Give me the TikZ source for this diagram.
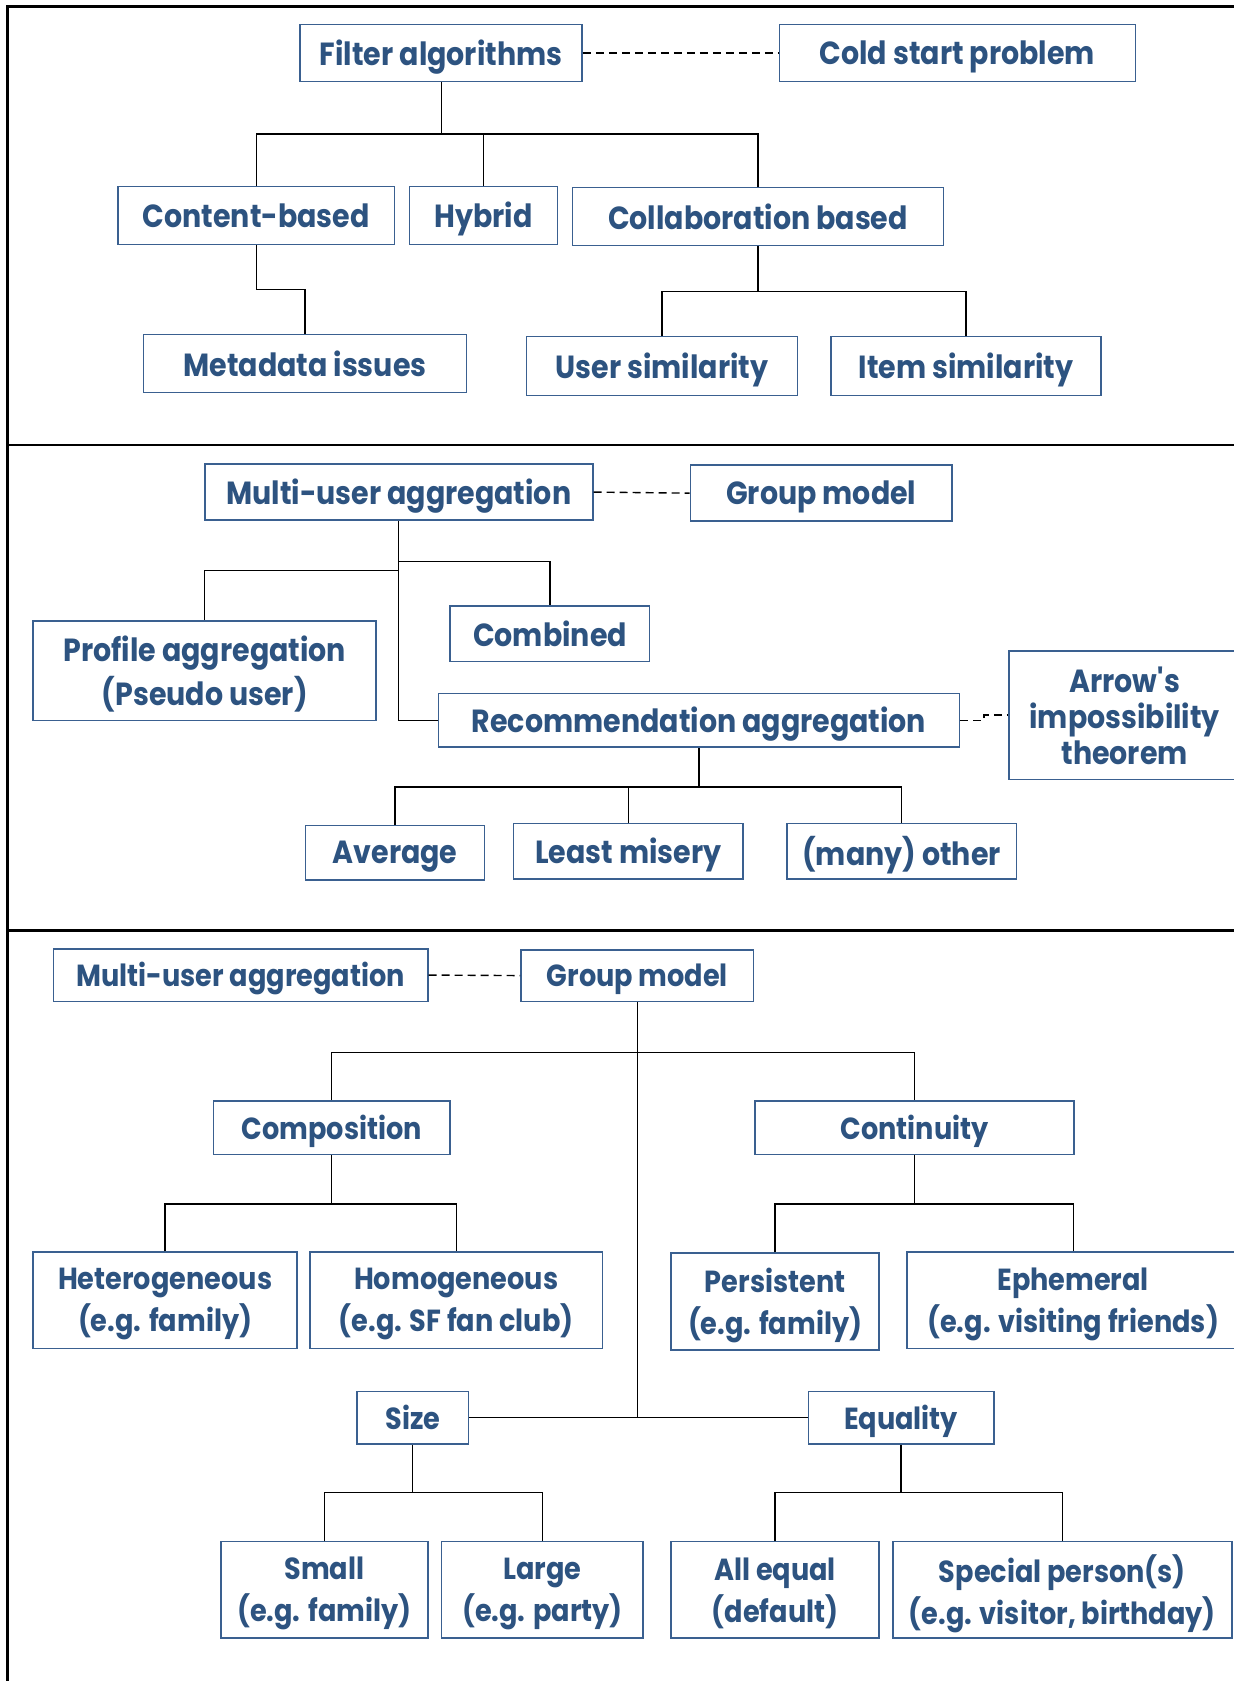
\documentclass[tikz,border=0pt]{standalone}
\usepackage{fontspec}
\setmainfont{Poppins}[FakeStretch=0.89]
\definecolor{txtblue}{RGB}{45,83,128}
\definecolor{boxblue}{RGB}{58,96,144}
\tikzset{
  box/.style={rectangle, draw=boxblue, line width=1.6pt, inner sep=0pt},
  txtbase/.style={text=txtblue, inner sep=0pt, align=center},
  tan/.style={txtbase, font=\bfseries\fontsize{32}{44}\selectfont},
  ta/.style={tan, yshift=-3.8pt},
  tbn/.style={txtbase, font=\bfseries\fontsize{30.5}{42}\selectfont},
  tb/.style={tbn, yshift=-3.8pt},
  conn/.style={draw=black, line width=1.3pt},
  dashconn/.style={draw=black, line width=1.4pt, dash pattern=on 8pt off 5pt},
  frame/.style={draw=black, line width=2.2pt}
}
\newcommand\mkbox[7][ta]{%
  \node[box, minimum width={(#5-#3)*1.0721pt}, minimum height={(#6-#4)*1.0721pt}] (#2) at ({(#3+#5)/2},{(#4+#6)/2}) {};%
  \node[#1] (#2-t) at (#2.center) {#7};}
\begin{document}
\begin{tikzpicture}[x=1.0721pt, y=-1.0721pt]
\useasboundingbox (0,0) rectangle (1151,1568);
% frame
\draw[frame] (1160,6) -- (7,6) -- (7,1575);
\draw[frame] (7,415) -- (1160,415);
\draw[frame] (7,868) -- (1160,868);
% ---------- panel 1
\mkbox{fa}{280}{23}{543}{76}{Filter algorithms}
\mkbox{cs}{727}{23}{1059}{76}{Cold start problem}
\mkbox[tan]{cb}{110}{174}{368}{228}{Content-based}
\mkbox{hy}{382}{174}{520}{228}{Hybrid}
\mkbox[tan]{cl}{534}{175}{880}{229}{Collaboration based}
\mkbox[tan]{md}{134}{312}{435}{366}{Metadata issues}
\mkbox{us}{491}{314}{744}{369}{User similarity}
\mkbox{is}{775}{314}{1027}{369}{Item similarity}
\draw[dashconn] (fa.east) -- (cs.west);
\draw[conn] (fa.south) -- (fa.south |- 0,125);
\draw[conn] (cb.north) -- (cb.north |- 0,125) -| (cl.north);
\draw[conn] (hy.north) -- (hy.north |- 0,125);
\draw[conn] (cb.south) -- (cb.south |- 0,270) -| (md.north);
\draw[conn] (cl.south) -- (cl.south |- 0,272);
\draw[conn] (us.north) -- (us.north |- 0,272) -| (is.north);
% ---------- panel 2
\mkbox{mu}{191}{433}{553}{485}{Multi-user aggregation}
\mkbox{gm}{644}{434}{888}{486}{Group model}
\mkbox{pa}{31}{579}{351}{672}{Profile aggregation\\(Pseudo user)}
\mkbox[tan]{co}{420}{565}{606}{617}{Combined}
\mkbox{ra}{409}{647}{895}{697}{Recommendation aggregation}
\mkbox[tan,font=\bfseries\fontsize{32}{36}\selectfont,yshift=-0.8pt]{ar}{941}{607}{1157}{727}{Arrow\textquotesingle s\\impossibility\\theorem}
\mkbox{av}{285}{770}{452}{821}{Average}
\mkbox{lm}{479}{768}{693}{820}{Least misery}
\mkbox{mo}{734}{768}{948}{820}{(many) other}
\draw[dashconn] (mu.east) -- (gm.west);
\draw[conn] (mu.south) |- (ra.west);
\draw[conn] (mu.south |- 0,532) -| (pa.north);
\draw[conn] (mu.south |- 0,524) -| (co.north);
\draw[dashconn] (ra.east) -- ++(22,0) |- (ar.west);
\draw[conn] (ra.south) -- (ra.south |- 0,734);
\draw[conn] (av.north) -- (av.north |- 0,734) -| (mo.north);
\draw[conn] (lm.north) -- (lm.north |- 0,734);
% ---------- panel 3
\mkbox[tb]{mu2}{50}{885}{399}{934}{Multi-user aggregation}
\mkbox[tb]{gm2}{486}{886}{703}{934}{Group model}
\mkbox[tb]{cp}{199}{1027}{420}{1077}{Composition}
\mkbox[tb]{cn}{704}{1027}{1002}{1077}{Continuity}
\mkbox[tb]{he}{31}{1168}{277}{1258}{Heterogeneous\\(e.g. family)}
\mkbox[tb]{ho}{289}{1168}{562}{1258}{Homogeneous\\(e.g. SF fan club)}
\mkbox[tb]{pe}{626}{1169}{820}{1259}{Persistent\\(e.g. family)}
\mkbox[tb]{ep}{846}{1168}{1156}{1258}{Ephemeral\\(e.g. visiting friends)}
\mkbox[tbn]{sz}{333}{1298}{437}{1347}{Size}
\mkbox[tb]{eq}{754}{1298}{927}{1347}{Equality}
\mkbox[tb]{sm}{206}{1438}{399}{1528}{Small\\(e.g. family)}
\mkbox[tb]{lg}{412}{1438}{600}{1528}{Large\\(e.g. party)}
\mkbox[tb]{ae}{626}{1438}{820}{1528}{All equal\\(default)}
\mkbox[tb]{sp}{833}{1438}{1149}{1528}{Special person(s)\\(e.g. visitor, birthday)}
\draw[dashconn] (mu2.east) -- (gm2.west);
\draw[conn] (gm2.south) -- (gm2.south |- sz.east);
\draw[conn] (sz.east) -- (eq.west);
\draw[conn] (cp.north) -- (cp.north |- 0,982) -| (cn.north);
\draw[conn] (cp.south) -- (cp.south |- 0,1123);
\draw[conn] (he.north) -- (he.north |- 0,1123) -| (ho.north);
\draw[conn] (cn.south) -- (cn.south |- 0,1123);
\draw[conn] (pe.north) -- (pe.north |- 0,1123) -| (ep.north);
\draw[conn] (sz.south) -- (sz.south |- 0,1392);
\draw[conn] (sm.north) -- (sm.north |- 0,1392) -| (lg.north);
\draw[conn] (eq.south) -- (eq.south |- 0,1392);
\draw[conn] (ae.north) -- (ae.north |- 0,1392) -| (sp.north);
\end{tikzpicture}
\end{document}
